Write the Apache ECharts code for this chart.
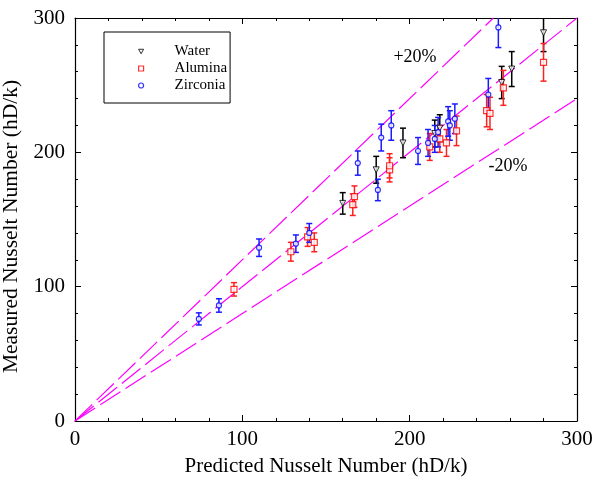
<!DOCTYPE html>
<html>
<head>
<meta charset="utf-8">
<script src="https://cdn.jsdelivr.net/npm/echarts@6/dist/echarts.min.js"></script>
<style>
html,body{margin:0;padding:0;background:#fff;}
#chart{width:593px;height:477px;}
</style>
</head>
<body>
<div id="chart"></div>
<script>
// ---- data ----
var waterX = [160, 180, 196, 215, 218, 255, 261, 280];
var waterY = [162, 187, 207, 214, 218, 252, 262, 289];
var waterErr = [8, 10, 11, 10, 10, 12, 13, 14];

var aluminaX = [95, 129, 139, 143, 166, 167, 188, 188, 212, 218, 222, 228, 246, 248, 256, 280];
var aluminaY = [98, 126, 137, 133, 161, 167, 187, 190, 204, 210, 207, 216, 231, 229, 248, 267];
var aluminaErr = [5, 7, 7, 7, 8, 8, 9, 9, 10, 10, 10, 11, 12, 12, 13, 14];

var zirconiaX = [74, 86, 110, 132, 140, 169, 181, 183, 189, 205, 211, 215, 217, 223, 224, 227, 247, 253];
var zirconiaY = [76, 86, 129, 132, 140, 192, 172, 211, 220, 201, 207, 210, 215, 223, 220, 225, 243, 293];
var zirconiaErr = [4.5, 5, 6.5, 6.5, 7, 9, 8, 10, 11, 10, 10, 10, 11, 11, 11, 11, 12, 15];

var refRatios = [1.0, 1.2, 0.8];
var axisMax = 300;
var tickLabels = ['0', '100', '200', '300'];

var seriesNames = ['Water', 'Alumina', 'Zirconia'];

function zip(xs, ys, es) {
  return xs.map(function (x, i) { return es ? [x, ys[i], es[i]] : [x, ys[i]]; });
}

var FONT = '"Liberation Serif", "Times New Roman", serif';

function errSeries(data, color) {
  return {
    type: 'custom',
    xAxisIndex: 0, yAxisIndex: 0,
    clip: true,
    silent: true,
    z: 3,
    data: data,
    renderItem: function (params, api) {
      var x = api.value(0), y = api.value(1), e = api.value(2);
      var top = api.coord([x, y + e]);
      var bot = api.coord([x, y - e]);
      var cap = 3;
      var st = { stroke: color, lineWidth: 1.5 };
      return {
        type: 'group',
        children: [
          { type: 'line', shape: { x1: top[0], y1: top[1], x2: bot[0], y2: bot[1] }, style: st },
          { type: 'line', shape: { x1: top[0] - cap, y1: top[1], x2: top[0] + cap, y2: top[1] }, style: st },
          { type: 'line', shape: { x1: bot[0] - cap, y1: bot[1], x2: bot[0] + cap, y2: bot[1] }, style: st }
        ]
      };
    }
  };
}

function refLine(r) {
  var endX = Math.min(axisMax, axisMax / r);
  return {
    type: 'line',
    xAxisIndex: 0, yAxisIndex: 0,
    data: [[0, 0], [endX, endX * r]],
    showSymbol: false,
    symbol: 'none',
    silent: true,
    z: 1,
    lineStyle: { color: '#ff00ff', width: 1.2, type: [24, 6] }
  };
}

function axisCommon(extra) {
  var base = {
    type: 'value',
    min: 0, max: axisMax, interval: 100,
    axisLine: { show: true, onZero: false, lineStyle: { color: '#000', width: 1.2 } },
    axisTick: { show: true, inside: true, length: 6, lineStyle: { color: '#000', width: 1 } },
    minorTick: { show: true, splitNumber: 5, length: 3, lineStyle: { color: '#000', width: 1 } },
    splitLine: { show: false },
    minorSplitLine: { show: false }
  };
  for (var k in extra) base[k] = extra[k];
  return base;
}

var labelStyle = function (margin) {
  return {
    show: true, color: '#000', fontSize: 21, fontFamily: FONT, margin: margin,
    formatter: function (v) { var i = Math.round(v / 100); return tickLabels[i] !== undefined ? tickLabels[i] : v; }
  };
};

var chart = echarts.init(document.getElementById('chart'), null, { renderer: 'canvas' });

var option = {
  animation: false,
  backgroundColor: '#fff',
  textStyle: { fontFamily: FONT },
  grid: { left: 75, right: 16, top: 18, bottom: 56, containLabel: false, outerBoundsMode: 'none' },
  legend: {
    data: [
      { name: seriesNames[0], icon: 'path://M0,0L10,0L5,9Z', itemStyle: { color: '#fff', borderColor: '#000', borderWidth: 1 } },
      { name: seriesNames[1], icon: 'rect', itemStyle: { color: '#fff', borderColor: '#ff0000', borderWidth: 1.2 } },
      { name: seriesNames[2], icon: 'circle', itemStyle: { color: '#fff', borderColor: '#0000ff', borderWidth: 1.2 } }
    ],
    orient: 'vertical',
    left: 104, top: 32,
    borderColor: '#000', borderWidth: 1,
    padding: [11, 3, 9, 34],
    itemWidth: 5, itemHeight: 5,
    itemGap: 0,
    formatter: function (n) { return '{s|}' + n; },
    textStyle: {
      fontFamily: FONT, fontSize: 15, color: '#000', lineHeight: 17,
      rich: { s: { width: 26, lineHeight: 17 } }
    },
    selectedMode: false
  },
  xAxis: [
    axisCommon({
      position: 'bottom',
      axisLabel: labelStyle(8),
      name: 'Predicted Nusselt Number (hD/k)',
      nameLocation: 'middle', nameGap: 35,
      nameTextStyle: { color: '#000', fontSize: 21, fontFamily: FONT }
    }),
    axisCommon({ position: 'top', axisLabel: { show: false } })
  ],
  yAxis: [
    axisCommon({
      position: 'left',
      axisLabel: labelStyle(10),
      name: 'Measured Nusselt Number (hD/k)',
      nameLocation: 'middle', nameGap: 42,
      nameTextStyle: { color: '#000', fontSize: 21.5, fontFamily: FONT, padding: [0, 14, 0, 0] }
    }),
    axisCommon({ position: 'right', axisLabel: { show: false } })
  ],
  graphic: [
    { type: 'text', x: 415, y: 57, style: { text: '+20%', font: '18px ' + FONT, fill: '#000', align: 'center', verticalAlign: 'middle' } },
    { type: 'text', x: 508, y: 166, style: { text: '-20%', font: '18px ' + FONT, fill: '#000', align: 'center', verticalAlign: 'middle' } }
  ],
  series: [
    refLine(refRatios[0]),
    refLine(refRatios[1]),
    refLine(refRatios[2]),
    errSeries(zip(waterX, waterY, waterErr), '#000000'),
    errSeries(zip(aluminaX, aluminaY, aluminaErr), '#ff2020'),
    errSeries(zip(zirconiaX, zirconiaY, zirconiaErr), '#1a1aff'),
    {
      name: 'Water', type: 'scatter', xAxisIndex: 0, yAxisIndex: 0, z: 4,
      symbol: 'triangle', symbolRotate: 180, symbolSize: 6,
      itemStyle: { color: '#fff', borderColor: '#000', borderWidth: 1 },
      data: zip(waterX, waterY)
    },
    {
      name: 'Alumina', type: 'scatter', xAxisIndex: 0, yAxisIndex: 0, z: 4,
      symbol: 'rect', symbolSize: 6,
      itemStyle: { color: '#fff', borderColor: '#ff0000', borderWidth: 1.2 },
      data: zip(aluminaX, aluminaY)
    },
    {
      name: 'Zirconia', type: 'scatter', xAxisIndex: 0, yAxisIndex: 0, z: 4,
      symbol: 'circle', symbolSize: 5,
      itemStyle: { color: '#fff', borderColor: '#0000ff', borderWidth: 1.2 },
      data: zip(zirconiaX, zirconiaY)
    }
  ]
};

chart.setOption(option);
</script>
</body>
</html>
